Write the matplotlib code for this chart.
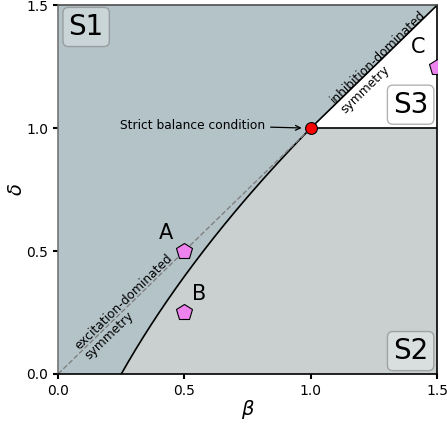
import numpy as np
from matplotlib import pyplot as plt

# boundary between S1 and S2
curve_delta = [0.00, 0.05, 0.10, 0.15, 0.20, 0.25, 0.30, 0.35, 0.40, 0.45, 0.50,
               0.55, 0.60, 0.65, 0.70, 0.75, 0.80, 0.85, 0.90, 0.95, 1.00]
curve_beta = [0.250, 0.278, 0.307, 0.337, 0.368, 0.400, 0.433, 0.467, 0.502, 0.538, 0.575,
              0.613, 0.652, 0.692, 0.733, 0.775, 0.818, 0.862, 0.907, 0.953, 1.000]

point_names = ["A", "B", "C"]
point_beta = [0.5, 0.5, 1.5]
point_delta = [0.5, 0.25, 1.25]
label_pos = [(0.427, 0.573), (0.558, 0.325), (1.426, 1.330)]

region_names = ["S1", "S2", "S3"]
region_pos = [(0.111, 1.411), (1.395, 0.093), (1.395, 1.095)]

lim = 1.5
ticks = [0.0, 0.5, 1.0, 1.5]

S1_COLOR = "#b4c3c8"
S2_COLOR = "#cad0d0"

fig = plt.figure(figsize=(4.47, 4.24), dpi=100)
ax = fig.add_axes([0.130, 0.118, 0.848, 0.870])

cb = np.array(curve_beta)
cd = np.array(curve_delta)

# S1: above the curve / above the diagonal
ax.fill(np.concatenate([[0.0], cb, [lim, 0.0]]),
        np.concatenate([[0.0], cd, [lim, lim]]), color=S1_COLOR, lw=0, zorder=0)
# S2: below the curve / below delta = 1
ax.fill(np.concatenate([cb, [lim, lim]]),
        np.concatenate([cd, [1.0, 0.0]]), color=S2_COLOR, lw=0, zorder=0)
# S3 stays white

ax.plot(cb, cd, color="black", lw=1.2, zorder=2)
ax.plot([0, 1], [0, 1], color="gray", lw=1, ls="--", zorder=2)
ax.plot([1, lim], [1, lim], color="black", lw=1.2, zorder=2)
ax.plot([1, lim], [1, 1], color="black", lw=1.2, zorder=2)

ax.plot([1], [1], "o", color="red", mec="black", ms=8.5, mew=0.8, zorder=5)
ax.annotate("Strict balance condition", xy=(0.975, 1.0), xytext=(0.819, 1.012),
            ha="right", va="center", fontsize=8.8,
            arrowprops=dict(arrowstyle="->", color="black", lw=0.9), zorder=6)

ax.plot(point_beta, point_delta, "p", color="violet", mec="black", ms=12, mew=0.8,
        zorder=5, clip_on=True)
for name, (x, y) in zip(point_names, label_pos):
    ax.text(x, y, name, fontsize=15, ha="center", va="center", zorder=6)

ax.text(0.280, 0.272, "excitation-dominated\nsymmetry", rotation=45,
        transform_rotates_text=True, rotation_mode="anchor", multialignment="left",
        ha="center", va="center", fontsize=8.8, linespacing=1.1, zorder=6)
ax.text(1.286, 1.267, "inhibition-dominated\nsymmetry", rotation=45,
        transform_rotates_text=True, rotation_mode="anchor", multialignment="left",
        ha="center", va="center", fontsize=8.8, linespacing=1.1, zorder=6)

for name, (x, y) in zip(region_names, region_pos):
    ax.text(x, y, name, fontsize=20, ha="center", va="center", zorder=7,
            bbox=dict(boxstyle="round,pad=0.2", fc=(1, 1, 1, 0.3), ec=(0.5, 0.5, 0.5, 0.6)))

ax.set_xlim(0, lim)
ax.set_ylim(0, lim)
ax.set_xticks(ticks)
ax.set_yticks(ticks)
ax.tick_params(labelsize=10, width=1.5)
ax.set_xlabel(r"$\beta$", fontsize=14, labelpad=0)
ax.set_ylabel(r"$\delta$", fontsize=14, labelpad=0.5)
ax.spines["left"].set_color("0.45")
ax.spines["top"].set_color("0.3")
for s in ax.spines.values():
    s.set_linewidth(1.2)

fig.savefig("out.png", dpi=100)
